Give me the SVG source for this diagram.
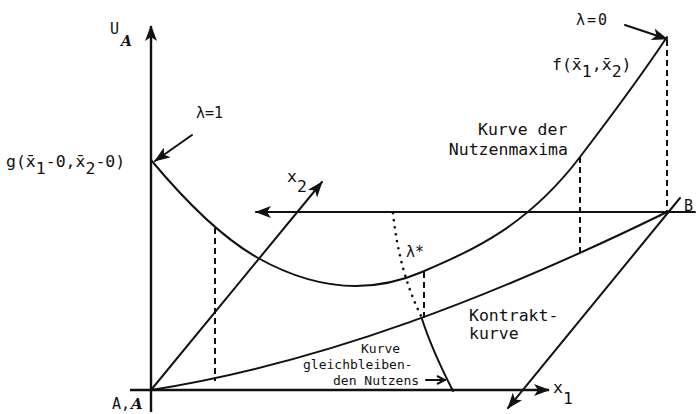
<svg xmlns="http://www.w3.org/2000/svg" width="699" height="414" viewBox="0 0 699 414">
<style>
.ln{fill:none;stroke:#111;stroke-width:2;stroke-linecap:round}
.ax{fill:none;stroke:#111;stroke-width:2.4}
.dash{fill:none;stroke:#111;stroke-width:2;stroke-dasharray:6 4}
.dot{fill:none;stroke:#111;stroke-width:2.6;stroke-linecap:round;stroke-dasharray:0.1 7}
text{font-family:"DejaVu Sans Mono","Liberation Mono",monospace;fill:#111}
.t{font-size:16.5px}
.s{font-size:13px}
.scr{font-family:"DejaVu Serif","Liberation Serif",serif;font-style:italic;font-weight:bold}
</style>
<defs>
<marker id="ah" markerUnits="userSpaceOnUse" markerWidth="16" markerHeight="12" viewBox="0 0 16 12" refX="15" refY="6" orient="auto">
<path d="M0,0 L16,6 L0,12 L4,6 Z" fill="#111"/>
</marker>
<marker id="ahs" markerUnits="userSpaceOnUse" markerWidth="10" markerHeight="10" viewBox="0 0 10 10" refX="9" refY="5" orient="auto">
<path d="M1,1 L9,5 L1,9" fill="none" stroke="#111" stroke-width="2"/>
</marker>
</defs>
<g id="connectors">
<line id="u-axis" class="ax" x1="151" y1="412" x2="151" y2="26" marker-end="url(#ah)"/>
<line id="x1-axis" class="ax" x1="130" y1="390" x2="549" y2="390" marker-end="url(#ah)"/>
<line id="x2-axis" class="ln" x1="151" y1="390" x2="322" y2="182" marker-end="url(#ah)"/>
<line id="b-horizontal" class="ln" x1="695" y1="212" x2="256" y2="212" marker-end="url(#ah)"/>
<line id="b-diagonal" class="ln" x1="680" y1="198" x2="508" y2="408" marker-end="url(#ah)"/>
<line id="arrow-l1" class="ln" x1="192" y1="135" x2="155" y2="161" marker-end="url(#ah)"/>
<line id="arrow-l0" class="ln" x1="625" y1="25" x2="667" y2="39" marker-end="url(#ah)"/>
<path id="nutzenmaxima" class="ln" d="M151,160 C186.7,202.8 222.3,238 258,258 C312.7,288.6 367.3,295.5 422,272 C474.7,249.3 527.3,226 580,157 C609,119 638,80.5 667,37"/>
<path id="kontraktkurve" class="ln" d="M151,390 C323,363 495,296 667,212"/>
<path id="indifferenz" class="ln" d="M422,319 Q432,350 453,391"/>
<path id="lambda-star" class="dot" d="M393,213 Q399,272 422,318"/>
<line class="dash" x1="215" y1="228" x2="215" y2="381"/>
<line class="dash" x1="424" y1="272" x2="424" y2="318"/>
<line class="dash" x1="580" y1="157" x2="580" y2="255"/>
<line class="dash" x1="667" y1="40" x2="667" y2="211"/>
<line class="ln" x1="426" y1="380" x2="445" y2="380" marker-end="url(#ahs)"/>
</g>
<g id="labels">
<g id="u-label"><text x="110" y="34" style="font-size:15px">U</text><text class="scr" x="121" y="46" style="font-size:14px">A</text></g>
<g id="origin-label"><text x="112" y="409" style="font-size:15px">A,</text><text class="scr" x="131" y="409" style="font-size:15px">A</text></g>
<g id="g-label"><text class="t" x="6" y="167">g(x̄<tspan dy="7">1</tspan><tspan dy="-7">-0,x̄</tspan><tspan dy="7">2</tspan><tspan dy="-7">-0)</tspan></text></g>
<g id="lambda1"><text x="196" y="118" style="font-size:15px">λ=1</text></g>
<g id="lambda0"><text x="576" y="25" style="font-size:15px" letter-spacing="2">λ=0</text></g>
<g id="f-label"><text class="t" x="552" y="70">f(x̄<tspan dy="7">1</tspan><tspan dy="-7">,x̄</tspan><tspan dy="7">2</tspan><tspan dy="-7">)</tspan></text></g>
<g id="kurve-max"><text class="t" x="478" y="135">Kurve der</text><text class="t" x="568" y="155" text-anchor="end">Nutzenmaxima</text></g>
<g id="x2-label"><text class="t" x="287" y="182">x<tspan dy="10">2</tspan></text></g>
<g id="lambda-star-label"><text x="406" y="257" style="font-size:15px">λ*</text></g>
<g id="kontrakt-label"><text class="t" x="469" y="321">Kontrakt-</text><text class="t" x="469" y="339">kurve</text></g>
<g id="indiff-label"><text class="s" x="361" y="353">Kurve</text><text class="s" x="303" y="369">gleichbleiben-</text><text class="s" x="333" y="385">den Nutzens</text></g>
<g id="x1-label"><text class="t" x="553" y="393">x<tspan dy="11">1</tspan></text></g>
<g id="b-label"><text x="684" y="211" style="font-size:15px">B</text></g>
</g>
</svg>
